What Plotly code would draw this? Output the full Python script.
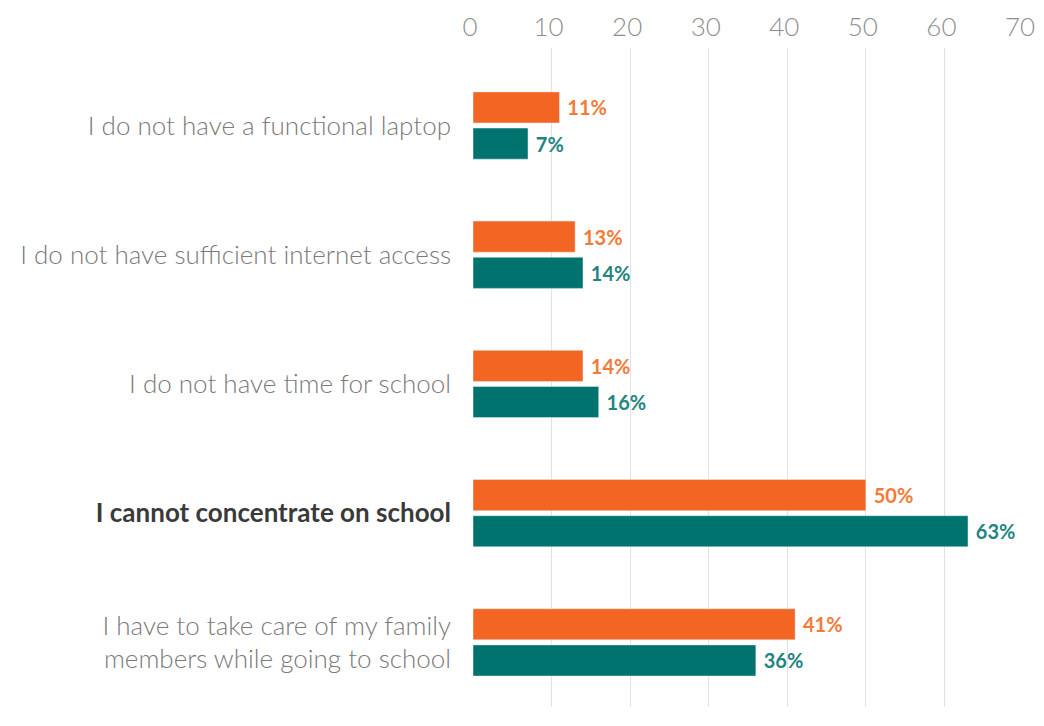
import plotly.graph_objects as go

categories = [
    "I do not have a functional laptop",
    "I do not have sufficient internet access",
    "I do not have time for school",
    "<b><span style='color:#3a3a3a'>I cannot concentrate on school</span></b>",
    "I have to take care of my family<br>members while going to school",
]
orange_vals = [11, 13, 14, 50, 41]
teal_vals = [7, 14, 16, 63, 36]
x_ticks = [0, 10, 20, 30, 40, 50, 60, 70]

ORANGE = "#F26522"
TEAL = "#00736F"
GREY = "#7a7a7a"

idx = list(range(len(categories)))

fig = go.Figure()
fig.add_trace(go.Bar(
    y=idx, x=orange_vals, orientation="h", name="A",
    marker=dict(color=ORANGE),
    texttemplate=" %{x}%", textposition="outside",
    textfont=dict(color="#F47A38", size=20, family="Lato", weight="bold"),
    cliponaxis=False,
))
fig.add_trace(go.Bar(
    y=idx, x=teal_vals, orientation="h", name="B",
    marker=dict(color=TEAL),
    texttemplate=" %{x}%", textposition="outside",
    textfont=dict(color="#1F8581", size=20, family="Lato", weight="bold"),
    cliponaxis=False,
))

# page body has an 8px margin, so the figure is sized/offset to compensate
fig.update_layout(
    barmode="group",
    bargap=0.44,
    bargroupgap=0.14,
    showlegend=False,
    width=1028, height=710,
    margin=dict(l=465, r=13, t=40, b=11),
    paper_bgcolor="white",
    plot_bgcolor="white",
    font=dict(family="Lato", color=GREY),
    xaxis=dict(
        side="top", range=[0, 70], tickvals=x_ticks,
        showgrid=True, gridcolor="#e2e2e2", gridwidth=1,
        zeroline=False, showline=False, automargin=False,
        tickfont=dict(size=26, color="#8f8f8f", weight=300),
        ticklabelstandoff=6, ticklabelshift=-3,
    ),
    yaxis=dict(
        tickvals=idx, ticktext=categories,
        range=[4.5, -0.6], automargin=False,
        showgrid=False, zeroline=False, showline=False,
        tickfont=dict(size=26, color=GREY, weight=300),
        ticklabelstandoff=21,
    ),
)

fig.write_html("out.html")
